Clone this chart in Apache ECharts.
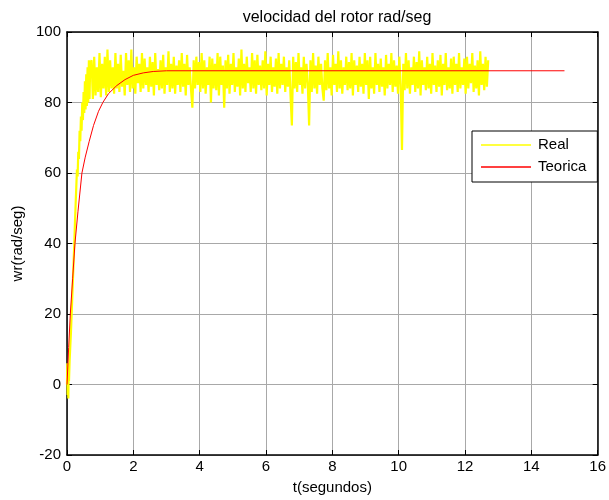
<!DOCTYPE html>
<html><head><meta charset="utf-8">
<script src="https://cdn.jsdelivr.net/npm/echarts@6/dist/echarts.min.js"></script>
<style>html,body{margin:0;padding:0;background:#fff}#c{width:609px;height:500px}</style>
</head><body><div id="c"></div>
<script>
// ---- data ----
const xTicks = [0,2,4,6,8,10,12,14,16];
const yTicks = [-20,0,20,40,60,80,100];
// Real: start-up portion (explicit times)
const realEarlyT = [0,0.01,0.02,0.03,0.04,0.05,0.06,0.08,0.10,0.12,0.14,0.16,0.18,0.20,0.22,0.24,0.26,0.28,0.30,0.32,0.34,0.36,0.38,0.40,0.42,0.44,0.46,0.48,0.50,0.52,0.54,0.56,0.58,0.60,0.62,0.64,0.66,0.68,0.70];
const realEarlyY = [0,6,-3,5,-4,3,1,7,11,15,20,25,30,35,40,46,51,56,61,59,66,64,72,69,76,72,80,75,83,77,86,78,88,79,90,80,92,81,91];
// Real: steady portion, sampled every 0.04 s from t = 0.74 s
const realSteadyStart = 0.74;
const realSteadyStep = 0.04;
const realSteadyY = [
92,81,93,82,90,83,94,81.5,91,84,93,82,95,83,92,84,90,82.5,94,84,
91,83,93.5,84.5,89,82,94,85,92,83,95,84,90,82.5,93,85.5,91,83,94,84,
92.5,85,90,83,93,84.5,91.5,82,94,85,89.5,83.5,92,84,93.5,82.5,90,85,94.5,83,
91,84,93,82.5,90.5,85,92,83,94,84.5,91,82,93.5,85,90,83.5,78.5,92,84,93,
85,91.5,83,94,84,92,82.5,90,85,93,80,92.5,84,91,83.5,94,82,93,85,90.5,
78.5,92,84,93.5,82.5,91,85,94,83,90,84.5,92.5,82,95,84,91,83,93,85.5,90,
83,94,84,92,82.5,93.5,85,90.5,83.5,92,84,94.5,82,91,85,93,83,90,84.5,92.5,
82.5,94,84,91,85,93,83,90,84.5,92,82,73.5,93,84,91.5,83,94,85,90,82.5,
93,84,91,85.5,73.5,92,83,94,84,90.5,82.5,93,85,91,84,80.5,92,83.5,94,84,
90,82,93.5,85,91,83,94.5,84,92,82.5,90,85,93,83.5,91.5,84,94,82,92,85,
90.5,83,93,84.5,91,82.5,94,85,92,81,93,84,90,82.5,94,85,91,83,92.5,84.5,
90,82,93.5,84,91,85,94,83,92,84.5,90.5,82.5,93,85,66.5,91,83.5,94,84,92,
82.5,90,85,93,83,91.5,84,94.5,82,92,85,90,83.5,93,84,91,82.5,94,85,90.5,
83,92,84.5,93.5,82,91,85,94,83.5,90,84,92.5,82.5,93,85,91,83,94,84,90,
85,92.5,82.5,93,84,91,85.5,94,83,90.5,84,92,82,94.5,85,91,83.5,93,84.5,92
];
// Teorica
const teoT = [0,0.05,0.10,0.17,0.24,0.33,0.45,0.55,0.67,0.80,0.95,1.08,1.25,1.50,1.75,2.00,2.30,2.60,3.00,15];
const teoY = [0,10.5,20,30,40,49,60,64.5,69,73.5,77.5,80,82.5,84.8,86.5,87.7,88.4,88.8,89,89];

// ---- build ----
const realData = realEarlyT.map((t,i)=>[t, realEarlyY[i]]);
realSteadyY.forEach((v,i)=>realData.push([+(realSteadyStart + i*realSteadyStep).toFixed(2), v]));
const teoData = teoT.map((t,i)=>[t, teoY[i]]);

const FONT = "'Liberation Sans', Arial, sans-serif";
const chart = echarts.init(document.getElementById('c'), null, {renderer:'canvas'});
const axisCommon = {
  axisLine:{show:true, onZero:false, lineStyle:{color:'#000', width:1.5}},
  axisTick:{show:true, inside:true, length:5, lineStyle:{color:'#000', width:1}},
};
chart.setOption({
  animation:false,
  backgroundColor:'#fff',
  title:{text:'velocidad del rotor rad/seg', left:332, top:5, textAlign:'center',
    textStyle:{fontFamily:FONT, fontSize:16, fontWeight:'normal', color:'#000'}},
  grid:{left:67, right:9, top:32, bottom:42, show:false},
  legend:{
    orient:'vertical', left:472, top:131,
    backgroundColor:'#fff', borderColor:'#000', borderWidth:1,
    padding:[6,11,7,9], itemGap:6, itemWidth:50, itemHeight:1.5, icon:'rect',
    textStyle:{fontFamily:FONT, fontSize:15, color:'#000', lineHeight:16, padding:[0,0,0,2]},
    selectedMode:false,
    data:['Real','Teorica']
  },
  xAxis:[
    Object.assign({type:'value', min:0, max:16, interval:2, name:'t(segundos)', nameLocation:'middle', nameGap:25,
      nameTextStyle:{fontFamily:FONT, fontSize:15, color:'#000'},
      axisLabel:{fontFamily:FONT, fontSize:15, color:'#000', margin:4, formatter:v=>xTicks.includes(v)?String(v):''},
      splitLine:{show:true, lineStyle:{color:'#a8a8a8', width:1}}}, axisCommon),
    Object.assign({type:'value', min:0, max:16, interval:2, position:'top', axisLabel:{show:false}, splitLine:{show:false}}, axisCommon)
  ],
  yAxis:[
    Object.assign({type:'value', min:-20, max:100, interval:20, name:'wr(rad/seg)', nameLocation:'middle', nameGap:42,
      nameTextStyle:{fontFamily:FONT, fontSize:15, color:'#000'},
      axisLabel:{fontFamily:FONT, fontSize:15, color:'#000', margin:6, formatter:v=>yTicks.includes(v)?String(v):''},
      splitLine:{show:true, lineStyle:{color:'#a8a8a8', width:1}}}, axisCommon),
    Object.assign({type:'value', min:-20, max:100, interval:20, position:'right', axisLabel:{show:false}, splitLine:{show:false}}, axisCommon)
  ],
  series:[
    {name:'Real', type:'line', data:realData, showSymbol:false, symbol:'none', sampling:null,
      lineStyle:{color:'#ffff00', width:2.2}, itemStyle:{color:'#ffff00'}, z:2},
    {name:'Teorica', type:'line', data:teoData, showSymbol:false, symbol:'none', smooth:false,
      lineStyle:{color:'#ff0000', width:1}, itemStyle:{color:'#ff0000'}, z:3}
  ]
});
</script></body></html>
